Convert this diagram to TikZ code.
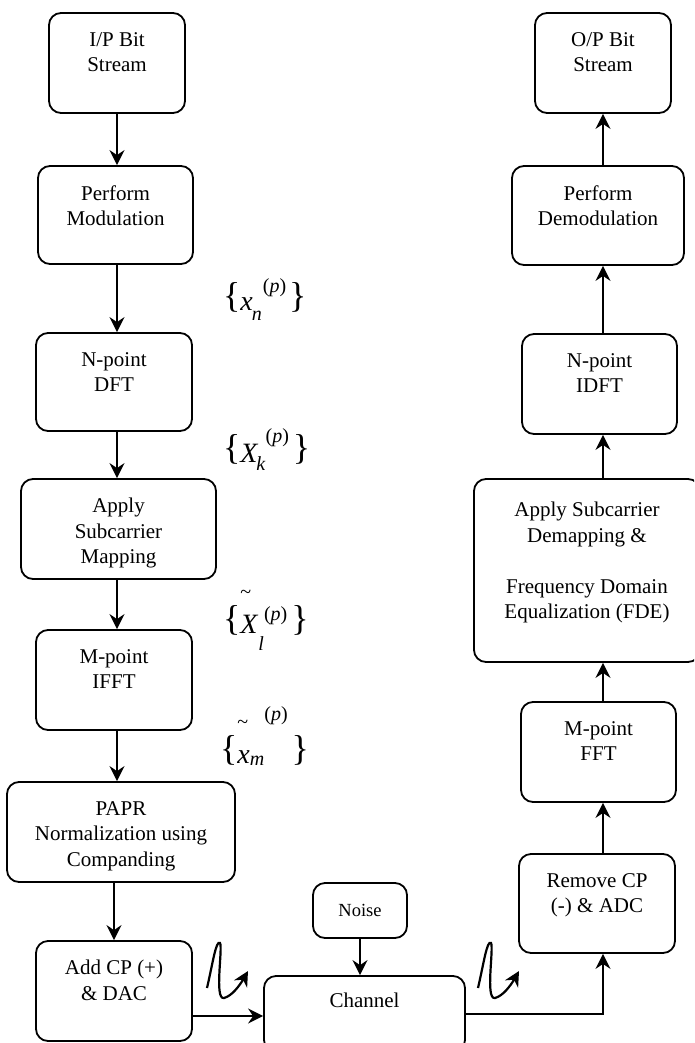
\documentclass[tikz,border=0pt]{standalone}
\usepackage{fontspec}
\setmainfont{Liberation Serif}
\usetikzlibrary{arrows.meta}

% sizes for the symbol labels
\newcommand{\brl}{\raisebox{3pt}{\fontsize{36}{36}\selectfont\{}}
\newcommand{\brr}{\raisebox{3pt}{\fontsize{36}{36}\selectfont\}}}
\newcommand{\sml}{\fontsize{20}{20}\selectfont}
\newcommand{\lrg}{\fontsize{28}{28}\selectfont}

\begin{document}
\begin{tikzpicture}[x=1pt, y=-1pt,
		blk/.style={draw, line width=1.8pt, rounded corners=12pt, inner sep=0pt},
		txt/.style={anchor=north, inner sep=0pt, align=center, font=\fontsize{21}{25.5}\selectfont},
		arr/.style={-{Stealth[length=15pt, width=15pt, inset=5pt]}, line width=2pt},
		sym/.style={anchor=base west, inner sep=0pt}
	]
	
	\useasboundingbox (0,0) rectangle (694,1043);
	\clip (0,0) rectangle (694,1043);
	
	% --- transmitter ---
	\node[blk, minimum width=136pt, minimum height=100pt] (ip) at (117,63) {};
	\node[blk, minimum width=155pt, minimum height=98pt] (mod) at (115.5,215) {};
	\node[blk, minimum width=156pt, minimum height=98pt] (dft) at (114,382) {};
	\node[blk, minimum width=195pt, minimum height=100pt] (map) at (118.5,529) {};
	\node[blk, minimum width=156pt, minimum height=100pt] (ifft) at (114,680) {};
	\node[blk, minimum width=228pt, minimum height=100pt] (papr) at (121,832) {};
	\node[blk, minimum width=156pt, minimum height=100pt] (addcp) at (114,991) {};
	
	\node[txt] (ipt) at ([yshift=-20pt]ip.north) {I/P Bit\\Stream};
	\node[txt] (modt) at ([yshift=-20pt]mod.north) {Perform\\Modulation};
	\node[txt] (dftt) at ([yshift=-20pt]dft.north) {N-point\\DFT};
	\node[txt] (mapt) at ([yshift=-20pt]map.north) {Apply\\Subcarrier\\Mapping};
	\node[txt] (ifftt) at ([yshift=-20pt]ifft.north) {M-point\\IFFT};
	\node[txt] (paprt) at ([yshift=-20pt]papr.north) {PAPR\\Normalization using\\Companding};
	\node[txt] (addcpt) at ([yshift=-20pt]addcp.north) {Add CP (+)\\\& DAC};
	
	% --- receiver ---
	\node[blk, minimum width=136pt, minimum height=100pt] (op) at (603,63) {};
	\node[blk, minimum width=172pt, minimum height=99pt] (demod) at (598,215.5) {};
	\node[blk, minimum width=155pt, minimum height=100pt] (idft) at (599.5,384) {};
	\node[blk, minimum width=226pt, minimum height=183pt] (demap) at (587,570.5) {};
	\node[blk, minimum width=155pt, minimum height=100pt] (fft) at (598.5,752) {};
	\node[blk, minimum width=156pt, minimum height=99pt] (rcp) at (597,903.5) {};
	
	\node[txt] (opt) at ([yshift=-20pt]op.north) {O/P Bit\\Stream};
	\node[txt] (demodt) at ([yshift=-20pt]demod.north) {Perform\\Demodulation};
	\node[txt] (idftt) at ([yshift=-20pt]idft.north) {N-point\\IDFT};
	\node[txt] (demapt) at ([yshift=-24pt]demap.north) {Apply Subcarrier\\Demapping \&\\[25.5pt]Frequency Domain\\Equalization (FDE)};
	\node[txt] (fftt) at ([yshift=-20pt]fft.north) {M-point\\FFT};
	\node[txt] (rcpt) at ([yshift=-20pt]rcp.north) {Remove CP\\(-) \& ADC};
	
	% --- channel ---
	\node[blk, minimum width=94pt, minimum height=55pt, font=\fontsize{18.5}{22}\selectfont] (noise) at (360,910.5) {Noise};
	\node[blk, minimum width=201pt, minimum height=76pt] (chan) at (364.5,1014) {};
	\node[txt] (chant) at ([yshift=-18pt]chan.north) {Channel};
	
	% forward path
	\draw[arr] (ip.south) -- (ip.south |- mod.north);
	\draw[arr] (mod.south -| ip.south) -- (ip.south |- dft.north);
	\draw[arr] (dft.south -| ip.south) -- (ip.south |- map.north);
	\draw[arr] (map.south -| ip.south) -- (ip.south |- ifft.north);
	\draw[arr] (ifft.south -| ip.south) -- (ip.south |- papr.north);
	\draw[arr] (papr.south -| addcp.south) -- (addcp.north);
	\draw[arr] ([yshift=-2pt]chan.west -| addcp.east) -- ([yshift=-2pt]chan.west);
	\draw[arr] (noise.south) -- (noise.south |- chan.north);
	\draw[arr] (chan.east) -| (op.south |- rcp.south);
	
	% return path
	\draw[arr] (rcp.north -| op.south) -- (op.south |- fft.south);
	\draw[arr] (fft.north -| op.south) -- (op.south |- demap.south);
	\draw[arr] (demap.north -| op.south) -- (op.south |- idft.south);
	\draw[arr] (idft.north -| op.south) -- (op.south |- demod.south);
	\draw[arr] (demod.north -| op.south) -- (op.south);
	
	% signal labels
	\node[sym] (xn) at (223,310) {\brl{\lrg\textit{x}}\kern-1pt\raisebox{-10pt}{\sml\textit{n}}\kern1pt\raisebox{18pt}{\sml(\textit{p})}\kern3pt\brr};
	\node[sym] (xk) at (223,462) {\brl{\lrg\textit{X}}\kern-2pt\raisebox{-8pt}{\sml\textit{k}}\raisebox{20pt}{\sml(\textit{p})}\kern4pt\brr};
	\node[sym] (xl) at (223,633) {\brl\rlap{\raisebox{35pt}{\sml\textasciitilde}}{\lrg\textit{X}}\raisebox{-17pt}{\sml\textit{l}}\raisebox{13pt}{\sml(\textit{p})}\kern4pt\brr};
	\node[sym] (xm) at (220,763) {\brl\rlap{\raisebox{35pt}{\sml\textasciitilde}}{\lrg\textit{x}}\raisebox{-2pt}{\sml\textit{m}}\raisebox{43pt}{\sml(\textit{p})}\kern4pt\brr};
	
	% analog waveforms
	\draw[arr, line width=2.2pt] (207,988) .. controls (213,962) and (216,940) .. (220,943)
		.. controls (223,948) and (214,1000) .. (224,998) .. controls (232,996) and (240,985) .. (248,971);
	\draw[arr, line width=2.2pt] (478,988) .. controls (484,962) and (487,940) .. (491,943)
		.. controls (494,948) and (485,1000) .. (495,998) .. controls (503,996) and (511,985) .. (519,971);
	
\end{tikzpicture}
\end{document}
